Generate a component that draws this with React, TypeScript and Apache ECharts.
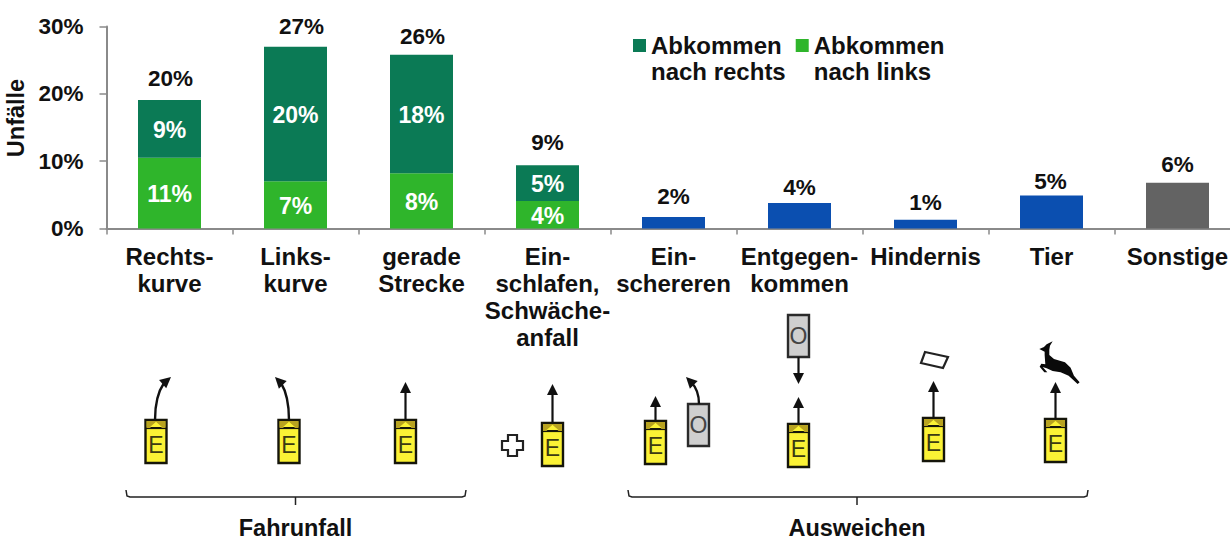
import React, { useEffect, useRef } from "react";
import * as echarts from "echarts";

const FONT = '"Liberation Sans", Arial, sans-serif';

const categories = [
  "Rechts-\nkurve", "Links-\nkurve", "gerade\nStrecke", "Ein-\nschlafen,\nSchwäche-\nanfall",
  "Ein-\nschereren", "Entgegen-\nkommen", "Hindernis", "Tier", "Sonstige",
];
const yTicks = [0, 10, 20, 30];

const nachLinks = [10.5, 7, 8.2, 4.1, null, null, null, null, null];
const nachRechts = [8.6, 20, 17.6, 5.3, null, null, null, null, null];
const ausweichen = [null, null, null, null, 1.7, 3.8, 1.3, 4.9, null];
const sonstige = [null, null, null, null, null, null, null, null, 6.8];

const nachLinksLabels = ["11%", "7%", "8%", "4%", "", "", "", "", ""];
const nachRechtsLabels = ["9%", "20%", "18%", "5%", "", "", "", "", ""];
const totalTops = [19.1, 27, 25.8, 9.4, 1.7, 3.8, 1.3, 4.9, 6.8];
const totalLabels = ["20%", "27%", "26%", "9%", "2%", "4%", "1%", "5%", "6%"];
const totalLabelOffsets = [
  [1, -5], [6, -4], [1, -2], [0, -6], [0, -4], [0, 1], [0, -1], [-1, 2], [0, -2],
];

const DARK = "#0b7a55";
const LIGHT = "#2fb52b";
const BLUE = "#0b4fb0";
const GRAY = "#636363";
const INK = "#111111";

const SQUARE_ICON = "path://M0 7H13V20H0Z M0 0L0 0 M13 52L13 52";

function head(tx: number, ty: number, angle: number, len = 11, half = 5.5) {
  const c = Math.cos(angle), s = Math.sin(angle);
  const bx = tx - c * len, by = ty - s * len;
  return {
    type: "polygon",
    shape: { points: [[tx, ty], [bx - s * half, by + c * half], [bx + s * half, by - c * half]] },
    style: { fill: INK },
  };
}

function straightUp(x: number, yFrom: number, yTip: number) {
  return [
    { type: "line", shape: { x1: x, y1: yFrom, x2: x, y2: yTip + 8 }, style: { stroke: INK, lineWidth: 2.2 } },
    head(x, yTip, -Math.PI / 2),
  ];
}

function curved(x1: number, y1: number, cx: number, cy: number, x2: number, y2: number, tipX: number, tipY: number) {
  return [
    {
      type: "bezierCurve",
      shape: { x1, y1, x2, y2, cpx1: cx, cpy1: cy },
      style: { stroke: INK, lineWidth: 2.4, fill: "none" },
    },
    head(tipX, tipY, Math.atan2(tipY - y2, tipX - x2)),
  ];
}

function car(x: number, y: number) {
  const w = 21, h = 43;
  return [
    { type: "rect", shape: { x, y, width: w, height: h }, style: { fill: "#fbf235", stroke: "#15150a", lineWidth: 2.4 } },
    { type: "line", shape: { x1: x, y1: y + 8, x2: x + w, y2: y + 8 }, style: { stroke: "#15150a", lineWidth: 2.2 } },
    { type: "polygon", shape: { points: [[x + 1, y + 8], [x + 1, y + 1], [x + w - 1, y + 1], [x + w - 1, y + 8], [x + w / 2 + 6, y + 8], [x + w / 2, y + 2], [x + w / 2 - 6, y + 8]] }, style: { fill: "#b8a320" } },
    { type: "polygon", shape: { points: [[x + w / 2 - 6, y + 7], [x + w / 2, y + 2], [x + w / 2 + 6, y + 7]] }, style: { fill: "#fbf235" } },
    { type: "text", style: { x: x + w / 2, y: y + 25, text: "E", fill: "#3c3a12", font: `23px ${FONT}`, align: "center", verticalAlign: "middle" } },
  ];
}

function other(x: number, y: number) {
  const w = 21, h = 42;
  return [
    { type: "rect", shape: { x, y, width: w, height: h }, style: { fill: "#cfcfcf", stroke: "#2a2a2a", lineWidth: 2.4 } },
    { type: "text", style: { x: x + w / 2, y: y + h / 2, text: "O", fill: "#444444", font: `23px ${FONT}`, align: "center", verticalAlign: "middle" } },
  ];
}

function bracket(x1: number, x2: number, mid: number) {
  return [
    { type: "polyline", shape: { points: [[x1, 490], [x1 + 1, 496], [x1 + 4, 497], [x2 - 4, 497], [x2 - 1, 496], [x2, 490]] }, style: { stroke: "#222222", lineWidth: 1.5, fill: "none" } },
    { type: "line", shape: { x1: mid, y1: 497, x2: mid, y2: 505 }, style: { stroke: "#222222", lineWidth: 1.5 } },
  ];
}

function deer() {
  return {
    type: "group", x: 1030, y: 335, scaleX: 1 / 3, scaleY: 1 / 3,
    children: [{
      type: "polygon",
      shape: {
        points: [
          [28, 42], [42, 36], [50, 28], [68, 19], [60, 32], [58, 44], [58, 60], [72, 72], [105, 82], [122, 98],
          [132, 122], [149, 142], [143, 147], [116, 122], [92, 112], [68, 108], [50, 100], [38, 96], [52, 112],
          [43, 112], [29, 95], [34, 86], [46, 88], [44, 60], [44, 50],
        ],
      },
      style: { fill: "#0a0a0a" },
    }],
  };
}

const pictograms = [
  ...car(145.5, 420), ...curved(155, 420, 155, 396, 164, 383, 171, 377),
  ...car(278.5, 420), ...curved(289, 420, 289, 396, 281, 383, 275, 377),
  ...car(395, 420), ...straightUp(405.5, 420, 382),
  { type: "polygon", shape: { points: [[508, 435], [517, 435], [517, 441], [523, 441], [523, 450], [517, 450], [517, 456], [508, 456], [508, 450], [502, 450], [502, 441], [508, 441]] }, style: { fill: "#ffffff", stroke: "#222222", lineWidth: 2.2 } },
  ...car(542, 423), ...straightUp(552.5, 423, 384),
  ...car(645, 421), ...straightUp(655.5, 421, 396),
  ...other(688, 404), ...curved(699, 404, 699, 390, 691, 382, 686, 377),
  ...other(788, 315),
  { type: "line", shape: { x1: 798.5, y1: 357, x2: 798.5, y2: 376 }, style: { stroke: INK, lineWidth: 2.2 } },
  head(798.5, 384, Math.PI / 2),
  ...car(788, 424), ...straightUp(798.5, 424, 397),
  { type: "polygon", shape: { points: [[925, 352], [948, 357], [943, 368], [921, 363]] }, style: { fill: "#ffffff", stroke: "#222222", lineWidth: 2.2 } },
  ...car(923, 418), ...straightUp(933.5, 418, 381),
  deer(),
  ...car(1045, 419), ...straightUp(1055.5, 419, 382),
  ...bracket(126, 466, 295.5),
  ...bracket(628, 1088, 857),
  { type: "text", style: { x: 295.5, y: 527.5, text: "Fahrunfall", fill: INK, font: `bold 23.5px ${FONT}`, align: "center", verticalAlign: "middle" } },
  { type: "text", style: { x: 857, y: 527.5, text: "Ausweichen", fill: INK, font: `bold 23.5px ${FONT}`, align: "center", verticalAlign: "middle" } },
];

function innerLabel(texts: string[]) {
  return {
    show: true,
    position: "inside",
    offset: [0, 1],
    color: "#ffffff",
    fontFamily: FONT,
    fontWeight: "bold",
    fontSize: 23,
    formatter: (p: any) => texts[p.dataIndex],
  };
}

const option: any = {
  animation: false,
  textStyle: { fontFamily: FONT },
  grid: { left: 106.5, top: 26.5, width: 1134, height: 202, containLabel: false, outerBoundsMode: "none" },
  legend: {
    left: 633,
    top: 32,
    padding: 0,
    itemWidth: 13,
    itemHeight: 52,
    itemGap: 10,
    selectedMode: false,
    data: [
      { name: "Abkommen\nnach rechts", icon: SQUARE_ICON },
      { name: "Abkommen\nnach links", icon: SQUARE_ICON },
    ],
    textStyle: { color: INK, fontFamily: FONT, fontWeight: "bold", fontSize: 24, lineHeight: 26, padding: [0, 0, 0, 0] },
  },
  xAxis: {
    type: "category",
    data: categories,
    axisLine: { lineStyle: { color: "#8a8a8a", width: 2 } },
    axisTick: { show: true, length: 6, alignWithLabel: false, lineStyle: { color: "#8a8a8a", width: 1.5 } },
    axisLabel: { interval: 0, color: INK, fontFamily: FONT, fontWeight: "bold", fontSize: 24, lineHeight: 27, margin: 14, hideOverlap: false },
  },
  yAxis: {
    type: "value",
    min: yTicks[0],
    max: yTicks[yTicks.length - 1],
    interval: 10,
    name: "Unfälle",
    nameLocation: "middle",
    nameGap: 74,
    nameTextStyle: { color: INK, fontFamily: FONT, fontWeight: "bold", fontSize: 23.5, padding: [0, 0, 0, 19] },
    axisLine: { show: true, lineStyle: { color: "#8a8a8a", width: 2 } },
    axisTick: { show: true, length: 7, lineStyle: { color: "#8a8a8a", width: 1.5 } },
    splitLine: { show: false },
    axisLabel: { color: INK, fontFamily: FONT, fontWeight: "bold", fontSize: 22.5, margin: 23, formatter: "{value}%" },
  },
  series: [
    { name: "Abkommen\nnach links", type: "bar", stack: "a", barWidth: 63, data: nachLinks, itemStyle: { color: LIGHT }, label: innerLabel(nachLinksLabels) },
    { name: "Abkommen\nnach rechts", type: "bar", stack: "a", barWidth: 63, data: nachRechts, itemStyle: { color: DARK }, label: innerLabel(nachRechtsLabels) },
    { name: "Ausweichen", type: "bar", stack: "a", barWidth: 63, data: ausweichen, itemStyle: { color: BLUE } },
    { name: "Sonstige", type: "bar", stack: "a", barWidth: 63, data: sonstige, itemStyle: { color: GRAY } },
    {
      name: "Gesamt",
      type: "scatter",
      symbolSize: 0,
      silent: true,
      itemStyle: { opacity: 1 },
      data: totalTops.map((v, i) => ({
        value: v,
        label: {
          show: true,
          position: "top",
          distance: 5,
          offset: totalLabelOffsets[i],
          color: INK,
          fontFamily: FONT,
          fontWeight: "bold",
          fontSize: 22.5,
          formatter: totalLabels[i],
        },
      })),
    },
  ],
  graphic: { elements: pictograms },
};

export default function App() {
  const ref = useRef<HTMLDivElement>(null);
  useEffect(() => {
    document.body.style.margin = "0";
    const chart = echarts.init(ref.current!, undefined, { renderer: "svg" });
    chart.setOption(option);
    return () => chart.dispose();
  }, []);
  return <div ref={ref} style={{ width: 1230, height: 540, background: "#ffffff" }} />;
}
